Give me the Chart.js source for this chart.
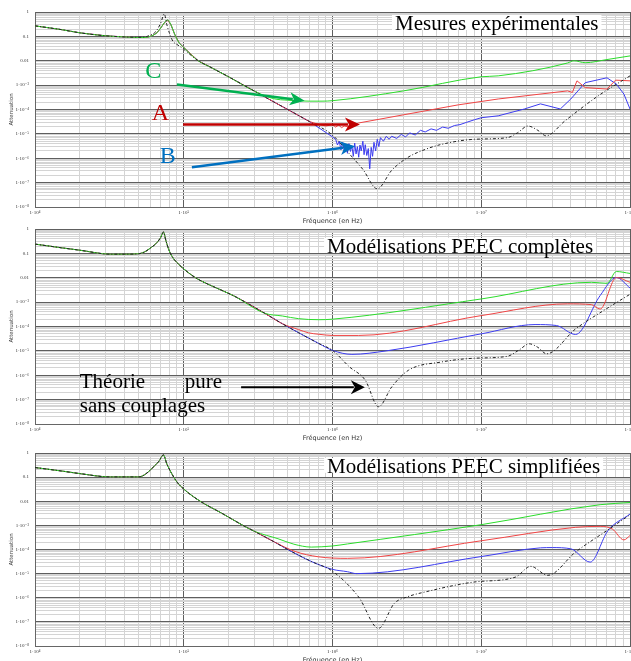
<!DOCTYPE html>
<html lang="fr">
<head>
<meta charset="utf-8">
<title>Atténuation</title>
<script src="https://cdn.jsdelivr.net/npm/chart.js@4.4.1/dist/chart.umd.min.js"></script>
<style>
html,body{margin:0;padding:0;background:#fff;width:631px;height:661px;overflow:hidden;position:relative;}
canvas{position:absolute;left:0;}
</style>
</head>
<body>
<canvas id="p1" width="640" height="222" style="top:3px"></canvas>
<canvas id="p2" width="640" height="222" style="top:220px"></canvas>
<canvas id="p3" width="640" height="220" style="top:444px"></canvas>
<script>
// ---------- tick labels ----------
const xDecades = [1e4, 1e5, 1e6, 1e7, 1e8];
const xTickLabels = ['1·10⁴', '1·10⁵', '1·10⁶', '1·10⁷', '1·10⁸'];
const yDecades = [1e-8, 1e-7, 1e-6, 1e-5, 1e-4, 1e-3, 0.01, 0.1, 1];
const yTickLabels = ['1·10⁻⁸', '1·10⁻⁷', '1·10⁻⁶', '1·10⁻⁵', '1·10⁻⁴', '1·10⁻³', '0.01', '0.1', '1'];

// ---------- Panel 1 : Mesures expérimentales ----------
const expLowFreq = [1e4,1.5e4,2e4,3e4,4e4,5e4,5.5e4,5.8e4,6.2e4,6.6e4,7e4,7.4e4,7.8e4,8.2e4,8.7e4,9.3e4,1e5,1.25e5,1.5e5,2e5,3e5];
const expLowAtt  = [0.27,0.19,0.14,0.105,0.095,0.09,0.09,0.095,0.11,0.14,0.22,0.36,0.47,0.3,0.12,0.055,0.035,0.01,0.0056,0.0022,5.6e-4];
const expTheoryLowFreq = [1e4,1.5e4,2e4,3e4,4e4,5e4,5.5e4,6e4,6.5e4,7e4,7.4e4,7.7e4,8e4,8.5e4,8.9e4,9.7e4,1.25e5,1.5e5,2e5,3e5];
const expTheoryLowAtt  = [0.27,0.19,0.14,0.105,0.095,0.092,0.095,0.115,0.16,0.35,0.83,0.3,0.14,0.06,0.049,0.034,0.01,0.0056,0.0022,5.6e-4];
const expTheoryFreq = [4e5,5e5,7e5,1e6,1.3e6,1.6e6,2e6,2.5e6,3.2e6,4.2e6,5.4e6,9e6,1.5e7,1.75e7,2.06e7,2.4e7,2.73e7,3.65e7,6.1e7,1e8];
const expTheoryAtt  = [2.1e-4,1e-4,3.2e-5,8.9e-6,1.5e-6,3.5e-7,5.6e-8,3.2e-7,1.07e-6,2.3e-6,3.7e-6,6e-6,7e-6,1.1e-5,2.1e-5,1.4e-5,8.3e-6,3.4e-5,3.6e-4,2.4e-3];
const expGreenFreq = [4e5,5e5,6e5,7e5,8.5e5,1e6,3e6,1e7,1.3e7,3.8e7,4.2e7,5e7,7e7,1e8];
const expGreenAtt  = [2.8e-4,2.4e-4,2.25e-4,2.2e-4,2.2e-4,2.3e-4,5.8e-4,2.2e-3,2.4e-3,8.1e-3,0.01,8.3e-3,0.0112,0.0158];
const expRedFreq = [4e5,5e5,7e5,8e5,9e5,1e6,1.05e6,1.1e6,1.15e6,1.2e6,1.3e6,1.4e6,1.5e6,7e6,1.3e7,3.8e7,4.1e7,4.4e7,5e7,7e7,8e7,1e8];
const expRedAtt  = [2.1e-4,1e-4,3.2e-5,2.5e-5,2.1e-5,2.4e-5,1.9e-5,2.3e-5,1.8e-5,2.1e-5,1.9e-5,2.4e-5,2.8e-5,1.55e-4,2.7e-4,5.8e-4,5e-4,1.5e-3,7.9e-4,6.9e-4,1.6e-3,1.5e-3];
const expBlueFreq = [4e5,5e5,7e5,1e6,1.05e6,1.08e6,1.11e6,1.14e6,1.17e6,1.2e6,1.23e6,1.26e6,1.29e6,1.32e6,1.35e6,1.38e6,1.41e6,1.44e6,1.47e6,1.5e6,1.53e6,1.56e6,1.6e6,1.63e6,1.66e6,1.7e6,1.74e6,1.78e6,1.82e6,1.86e6,1.9e6,1.95e6,2e6,2.05e6,2.1e6,2.2e6,2.3e6,2.4e6,2.5e6,2.7e6,2.9e6,3.1e6,3.3e6,3.6e6,3.9e6,4.2e6,4.6e6,5e6,5.5e6,6e6,6.6e6,7.2e6,8e6,9e6,1e7,1.3e7,1.95e7,2.5e7,3.4e7,4e7,5e7,7e7,8.1e7,9.1e7,1e8];
const expBlueAtt  = [2.1e-4,1e-4,3.2e-5,7.5e-6,6e-6,3.5e-6,5e-6,2.2e-6,4.5e-6,2e-6,3.8e-6,1.6e-6,4e-6,1.9e-6,3.2e-6,1.2e-6,4.2e-6,1.5e-6,3e-6,1.1e-6,3.5e-6,2e-6,5e-6,1.4e-6,3.6e-6,1.3e-6,2.5e-6,3.7e-7,2.8e-6,1.2e-6,4.5e-6,2e-6,6e-6,3e-6,7e-6,5e-6,8e-6,6e-6,8e-6,6.5e-6,9.5e-6,7.5e-6,1.1e-5,9e-6,1.4e-5,1.2e-5,1.6e-5,1.4e-5,1.9e-5,1.7e-5,2.2e-5,2.4e-5,3e-5,3.8e-5,4.6e-5,5.5e-5,1.05e-4,1.7e-4,1.05e-4,2.7e-4,1.26e-3,2e-3,1.1e-3,4.3e-4,1.05e-4];

// ---------- Panel 2 : Modélisations PEEC complètes ----------
const peecLowFreq = [1e4,1.5e4,2e4,3.2e4,4e4,5e4,5.5e4,6e4,6.5e4,7e4,7.3e4,7.6e4,8e4,8.5e4,9e4,1e5,1.2e5,1.5e5,2.15e5,3.5e5];
const peecLowAtt  = [0.24,0.17,0.135,0.093,0.093,0.097,0.118,0.17,0.25,0.45,0.75,0.32,0.125,0.063,0.042,0.023,0.01,5e-3,1.86e-3,3.5e-4];
const peecTheoryFreq = [4.6e5,5.9e5,8.1e5,1e6,1.3e6,1.66e6,2.04e6,2.5e6,3.24e6,5.4e6,9e6,1.5e7,1.8e7,2.1e7,2.4e7,2.75e7,4.3e7,7.1e7,1e8];
const peecTheoryAtt  = [1.3e-4,5.6e-5,2e-5,1.05e-5,2.2e-6,6.3e-7,5.1e-8,3.3e-7,1.6e-6,3.5e-6,5e-6,6e-6,1.1e-5,1.95e-5,1.4e-5,7.6e-6,7.9e-5,5.8e-4,2.1e-3];
const peecGreenFreq = [4.6e5,5.9e5,8.1e5,1e6,1e7,5.5e7,7e7,8.1e7,1e8];
const peecGreenAtt  = [2.7e-4,2.1e-4,1.9e-4,2e-4,1.35e-3,6.5e-3,5.9e-3,0.018,0.015];
const peecRedFreq = [4.6e5,5.9e5,6.9e5,8.1e5,1e6,1.5e6,1e7,3.8e7,5.5e7,6.3e7,8.1e7,1e8];
const peecRedAtt  = [1.3e-4,7.5e-5,5.5e-5,4.8e-5,4.3e-5,4.3e-5,2.8e-4,8.5e-4,7.9e-4,5.2e-4,0.0102,6.5e-3];
const peecBlueFreq = [4.6e5,5.9e5,8.1e5,1e6,1.35e6,2.3e6,1e7,2.3e7,3.2e7,4.3e7,6.3e7,8.1e7,1e8];
const peecBlueAtt  = [1.3e-4,5.6e-5,2e-5,1.05e-5,7.2e-6,1e-5,5e-5,1.2e-4,1.1e-4,4.7e-5,1.86e-3,0.0102,3.8e-3];

// ---------- Panel 3 : Modélisations PEEC simplifiées ----------
const simpLowFreq = [1e4,1.5e4,2e4,3.2e4,5e4,5.5e4,6.2e4,6.8e4,7.3e4,7.7e4,8.2e4,9e4,1e5,1.29e5,1.8e5,2.5e5,3e5];
const simpLowAtt  = [0.25,0.18,0.14,0.102,0.102,0.13,0.25,0.45,0.83,0.35,0.16,0.063,0.032,0.01,3.2e-3,1e-3,5.6e-4];
const simpTheoryFreq = [4.1e5,5e5,7.2e5,1e6,1.5e6,2.04e6,2.6e6,3.2e6,4.2e6,9e6,1.7e7,2.15e7,2.8e7,4.3e7,7.1e7,1e8];
const simpTheoryAtt  = [2e-4,1e-4,3.2e-5,1.26e-5,1.07e-6,5.4e-8,5.8e-7,1.1e-6,1.74e-6,4.5e-6,7.2e-6,2e-5,8.5e-6,7.8e-5,6.5e-4,2.75e-3];
const simpGreenFreq = [4.3e5,5.5e5,7.2e5,1e6,1.26e6,1e7,6.3e7,1e8];
const simpGreenAtt  = [2.8e-4,1.66e-4,1.26e-4,1.4e-4,1.7e-4,1.07e-3,7.2e-3,8.9e-3];
const simpRedFreq = [4.1e5,5.6e5,8e5,1.26e6,1e7,4.3e7,6.3e7,7.6e7,9.1e7,1e8];
const simpRedAtt  = [2e-4,8.3e-5,5e-5,4.3e-5,2.3e-4,8.3e-4,9.1e-4,7.1e-4,2.5e-4,3.8e-4];
const simpBlueFreq = [4.1e5,5e5,7.2e5,1e6,1.26e6,1.45e6,1e7,2.5e7,3e7,4e7,5.4e7,7.1e7,1e8];
const simpBlueAtt  = [2e-4,1e-4,3.2e-5,1.5e-5,1.2e-5,1e-5,5.1e-5,1.17e-4,1.2e-4,1.07e-4,3e-5,6e-4,2.95e-3];

// ---------- styles ----------
const COL_GREEN = '#2bdc2b', COL_RED = '#f04444', COL_BLUE = '#3c3cf0', COL_BLACK = '#222222';
const SERIF = '"Liberation Serif", "DejaVu Serif", serif';

function pts(f1, a1, f2, a2) {
  const fs = f1.concat(f2), as = a1.concat(a2);
  return fs.map((f, i) => ({x: f, y: as[i]}));
}
function isDecade(v, decs) { return decs.some(d => Math.abs(v / d - 1) < 1e-9); }
function labelFor(v, decs, labels) {
  const i = decs.findIndex(d => Math.abs(v / d - 1) < 1e-9);
  return i >= 0 ? labels[i] : '';
}
function gridValues(decs) {
  const out = [];
  for (let i = 0; i < decs.length - 1; i++) for (let m = 1; m <= 9; m++) out.push(m * decs[i]);
  out.push(decs[decs.length - 1]);
  return out;
}

function drawArrow(ctx, x1, y1, x2, y2, color, lw, hl, hw) {
  const a = Math.atan2(y2 - y1, x2 - x1), c = Math.cos(a), s = Math.sin(a);
  const bx = x2 - hl * c, by = y2 - hl * s;
  ctx.strokeStyle = color; ctx.fillStyle = color; ctx.lineWidth = lw;
  ctx.beginPath(); ctx.moveTo(x1, y1); ctx.lineTo(bx + 3 * c, by + 3 * s); ctx.stroke();
  ctx.beginPath();
  ctx.moveTo(x2, y2);
  ctx.lineTo(bx + hw / 2 * s, by - hw / 2 * c);
  ctx.lineTo(bx + 4 * c, by + 4 * s);
  ctx.lineTo(bx - hw / 2 * s, by + hw / 2 * c);
  ctx.closePath(); ctx.fill();
}

const annotPlugin = {
  id: 'annot',
  afterDatasetsDraw(chart, args, opts) {
    const {ctx, scales: {x, y}} = chart;
    ctx.save();
    (opts.texts || []).forEach(t => {
      ctx.font = t.font;
      ctx.textAlign = t.align || 'left';
      ctx.textBaseline = 'alphabetic';
      const px = x.getPixelForValue(t.at[0]), py = y.getPixelForValue(t.at[1]);
      if (t.box) {
        const w = ctx.measureText(t.text).width;
        ctx.fillStyle = '#ffffff';
        ctx.fillRect(px - 3, py - 15, w + 6, 15);
      }
      ctx.fillStyle = t.color;
      ctx.fillText(t.text, px, py);
    });
    (opts.arrows || []).forEach(a => {
      drawArrow(ctx, x.getPixelForValue(a.from[0]), y.getPixelForValue(a.from[1]),
        x.getPixelForValue(a.to[0]), y.getPixelForValue(a.to[1]), a.color, a.width, a.head[0], a.head[1]);
    });
    ctx.restore();
  }
};

function ds(data, color, opts) {
  return Object.assign({data, borderColor: color, borderWidth: 1, pointRadius: 0, fill: false,
    cubicInterpolationMode: 'monotone'}, opts || {});
}

function makePanel(id, datasets, annot) {
  const xGrid = gridValues(xDecades), yGrid = gridValues(yDecades);
  const gridCol = decs => c => (c.tick && isDecade(c.tick.value, decs)) ? '#5e5e5e' : '#d4d4d4';
  new Chart(document.getElementById(id), {
    type: 'line',
    data: {datasets},
    plugins: [annotPlugin],
    options: {
      responsive: false, animation: false, events: [],
      layout: {padding: {top: 8, right: 10, left: 0, bottom: 0}},
      plugins: {legend: {display: false}, tooltip: {enabled: false}, annot},
      scales: {
        x: {
          type: 'logarithmic', min: 1e4, max: 1e8,
          afterBuildTicks: s => { s.ticks = xGrid.map(v => ({value: v})); },
          afterFit: s => { s.height = 18; },
          ticks: {autoSkip: false, maxRotation: 0, minRotation: 0, padding: 3, color: '#333',
            font: {size: 5, family: SERIF}, callback: v => labelFor(v, xDecades, xTickLabels)},
          grid: {drawTicks: false, color: gridCol(xDecades), lineWidth: 1},
          border: {color: '#666'},
          title: {display: true, text: 'Fréquence (en Hz)', color: '#333',
            font: {size: 6.5, family: '"DejaVu Sans", sans-serif'}, padding: {top: 0, bottom: 0}}
        },
        y: {
          type: 'logarithmic', min: 1e-8, max: 1,
          afterBuildTicks: s => { s.ticks = yGrid.map(v => ({value: v})); },
          afterFit: s => { s.width = 35; },
          ticks: {autoSkip: false, padding: 6, color: '#333',
            font: {size: 5, family: SERIF}, callback: v => labelFor(v, yDecades, yTickLabels)},
          grid: {drawTicks: false, color: gridCol(yDecades), lineWidth: 1},
          border: {color: '#666'},
          title: {display: true, text: 'Attenuation', color: '#444',
            font: {size: 5.5, family: '"DejaVu Sans", sans-serif'}, padding: {top: 8, bottom: 0}}
        }
      }
    }
  });
}

const dash = {borderDash: [3, 2, 1, 2]};

// dataset order: first is drawn on top (black theory, then green, red, blue)
makePanel('p1', [
  ds(pts(expTheoryLowFreq, expTheoryLowAtt, expTheoryFreq, expTheoryAtt), COL_BLACK, dash),
  ds(pts(expLowFreq, expLowAtt, expGreenFreq, expGreenAtt), COL_GREEN),
  ds(pts(expLowFreq, expLowAtt, expRedFreq, expRedAtt), COL_RED, {cubicInterpolationMode: 'default', tension: 0}),
  ds(pts(expLowFreq, expLowAtt, expBlueFreq, expBlueAtt), COL_BLUE, {cubicInterpolationMode: 'default', tension: 0})
], {
  texts: [
    {text: 'Mesures expérimentales', at: [2.63e6, 0.184], font: '21px ' + SERIF, color: '#000', box: true},
    {text: 'C', at: [5.5e4, 2.0e-3], font: '24px ' + SERIF, color: '#00b050'},
    {text: 'A', at: [6.1e4, 3.55e-5], font: '24px ' + SERIF, color: '#c00000'},
    {text: 'B', at: [6.9e4, 6.3e-7], font: '24px ' + SERIF, color: '#0070c0'}
  ],
  arrows: [
    {from: [9.0e4, 1.05e-3], to: [6.5e5, 2.3e-4], color: '#00b050', width: 2.5, head: [15, 13]},
    {from: [9.9e4, 2.45e-5], to: [1.53e6, 2.45e-5], color: '#c00000', width: 2.5, head: [15, 14]},
    {from: [1.135e5, 4.3e-7], to: [1.42e6, 3.1e-6], color: '#0070c0', width: 2.5, head: [15, 14]}
  ]
});

makePanel('p2', [
  ds(pts(peecLowFreq, peecLowAtt, peecTheoryFreq, peecTheoryAtt), COL_BLACK, dash),
  ds(pts(peecLowFreq, peecLowAtt, peecGreenFreq, peecGreenAtt), COL_GREEN),
  ds(pts(peecLowFreq, peecLowAtt, peecRedFreq, peecRedAtt), COL_RED),
  ds(pts(peecLowFreq, peecLowAtt, peecBlueFreq, peecBlueAtt), COL_BLUE)
], {
  texts: [
    {text: 'Modélisations PEEC complètes', at: [9.2e5, 0.105], font: '21px ' + SERIF, color: '#000', box: true},
    {text: 'Théorie', at: [2.0e4, 2.95e-7], font: '21px ' + SERIF, color: '#000'},
    {text: 'pure', at: [1.81e5, 2.95e-7], font: '21px ' + SERIF, color: '#000', align: 'right'},
    {text: 'sans couplages', at: [2.0e4, 3.1e-8], font: '21px ' + SERIF, color: '#000'}
  ],
  arrows: [
    {from: [2.43e5, 3.24e-7], to: [1.65e6, 3.24e-7], color: '#000', width: 2, head: [14, 14]}
  ]
});

makePanel('p3', [
  ds(pts(simpLowFreq, simpLowAtt, simpTheoryFreq, simpTheoryAtt), COL_BLACK, dash),
  ds(pts(simpLowFreq, simpLowAtt, simpGreenFreq, simpGreenAtt), COL_GREEN),
  ds(pts(simpLowFreq, simpLowAtt, simpRedFreq, simpRedAtt), COL_RED),
  ds(pts(simpLowFreq, simpLowAtt, simpBlueFreq, simpBlueAtt), COL_BLUE)
], {
  texts: [
    {text: 'Modélisations PEEC simplifiées', at: [9.2e5, 0.15], font: '21px ' + SERIF, color: '#000', box: true}
  ]
});
</script>
</body>
</html>
